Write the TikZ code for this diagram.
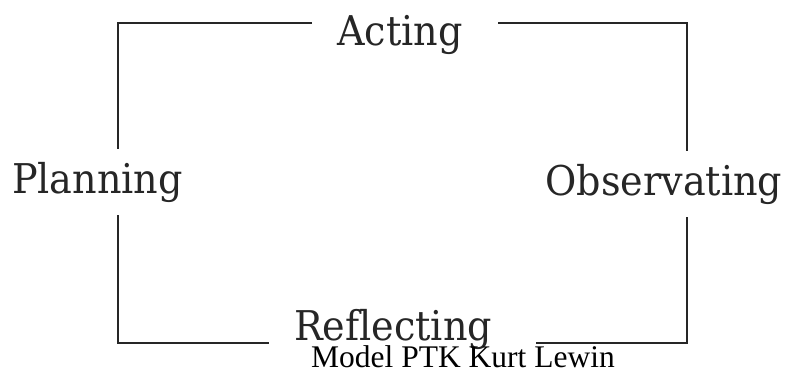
\documentclass[tikz,border=0pt]{standalone}
\usepackage{fontspec}
\setmainfont{Liberation Serif}
\newfontfamily\labelfont[FakeStretch=0.93,Ligatures=NoCommon]{DejaVu Serif}
\begin{document}
\begin{tikzpicture}[x=1pt,y=-1pt,
  stage/.style={font=\labelfont\fontsize{41}{46}\selectfont, text=black!85, inner xsep=0pt, inner ysep=13pt, anchor=base},
  frame/.style={draw=black!85, line width=2.6pt, line cap=butt, line join=miter},
  caption/.style={font=\fontsize{31.5}{36}\selectfont, text=black, inner sep=0pt, anchor=base}]
\useasboundingbox (0,0) rectangle (789,370);
\node[stage] (acting) at (400,45) {Acting};
\node[stage] (planning) at (97.5,193) {Planning};
\node[stage] (observating) at (664,195) {Observating};
\node[stage] (reflecting) at (393,340) {Reflecting};
\node[caption] (cap) at (463,367) {Model PTK Kurt Lewin};
\coordinate (tl) at (118,23);
\coordinate (tr) at (687,23);
\coordinate (bl) at (118,343);
\coordinate (br) at (687,343);
\coordinate (aW) at ([xshift=-25pt]acting.west);
\coordinate (aE) at ([xshift=35pt]acting.east);
\coordinate (rW) at ([xshift=-25pt]reflecting.west);
\coordinate (rE) at ([xshift=44pt]reflecting.east);
\draw[frame] (aW |- tl) -- (tl) -- (tl |- planning.north);
\draw[frame] (tl |- planning.south) -- (bl) -- (rW |- bl);
\draw[frame] (rE |- br) -- (br) -- (tr |- observating.south);
\draw[frame] (tr |- observating.north) -- (tr) -- (aE |- tr);
\end{tikzpicture}
\end{document}
